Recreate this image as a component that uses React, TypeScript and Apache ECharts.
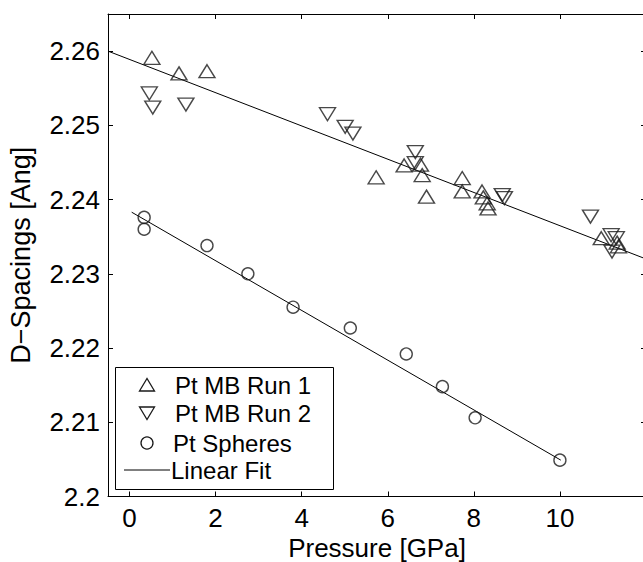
import React, { useEffect, useRef } from "react";
import * as echarts from "echarts";

const run1X = [0.52, 1.15, 1.80, 5.73, 6.38, 6.76, 6.80, 6.90, 7.73, 7.73, 8.19, 8.22, 8.31, 8.33, 10.96, 11.33, 11.36];
const run1Y = [2.2591, 2.2570, 2.2573, 2.2430, 2.2446, 2.2447, 2.2433, 2.2404, 2.2429, 2.2411, 2.2411, 2.2403, 2.2395, 2.2388, 2.2348, 2.2342, 2.2337];

const run2X = [0.46, 0.54, 1.31, 4.60, 5.01, 5.19, 6.64, 6.64, 8.66, 8.71, 10.71, 11.19, 11.21, 11.31];
const run2Y = [2.2543, 2.2524, 2.2528, 2.2515, 2.2498, 2.2489, 2.2464, 2.2449, 2.2406, 2.2402, 2.2377, 2.2352, 2.2330, 2.2348];

const sphX = [0.34, 0.34, 1.80, 2.75, 3.80, 5.13, 6.43, 7.27, 8.03, 10.0];
const sphY = [2.2376, 2.2360, 2.2338, 2.2300, 2.2255, 2.2227, 2.2192, 2.2148, 2.2106, 2.2049];

const fitMBX = [-0.5, 12];
const fitMBY = [2.2600, 2.2320];
const fitSphX = [0.05, 10.02];
const fitSphY = [2.2383, 2.2049];

const xTicks = [0, 2, 4, 6, 8, 10];
const yTicks = [2.2, 2.21, 2.22, 2.23, 2.24, 2.25, 2.26];

const legendLabels = ["Pt MB Run 1", "Pt MB Run 2", "Pt Spheres", "Linear Fit"];

const FONT = "'Liberation Sans', Arial, Helvetica, sans-serif";

const zip = (xs: number[], ys: number[]) => xs.map((x, i) => [x, ys[i]]);

export default function App() {
  const ref = useRef<HTMLDivElement>(null);
  useEffect(() => {
    if (!ref.current) return;
    const chart = echarts.init(ref.current, undefined, { renderer: "svg" });
    const markerStyle = { color: "rgba(0,0,0,0)", borderColor: "#1a1a1a", borderWidth: 1.4 };
    const textStyle = { fontFamily: FONT, fontSize: 24, fill: "#000" };
    const legX = 147;
    const legY = [385, 413, 443, 470];
    const axisCommon = {
      type: "value",
      axisLine: { show: true, onZero: false, lineStyle: { color: "#000", width: 1 } },
      splitLine: { show: false },
    };
    chart.setOption({
      animation: false,
      backgroundColor: "#fff",
      grid: { left: 108, top: 14, right: -3, bottom: 65.5, containLabel: false, outerBoundsMode: "none" },
      xAxis: [
        {
          ...axisCommon,
          min: -0.5,
          max: 12,
          name: "Pressure [GPa]",
          nameLocation: "middle",
          nameGap: 30,
          nameTextStyle: { fontFamily: FONT, fontSize: 26, color: "#000", lineHeight: 26 },
          axisTick: { show: true, inside: true, length: 5, customValues: xTicks, lineStyle: { color: "#000" } },
          axisLabel: { customValues: xTicks, fontFamily: FONT, fontSize: 26, color: "#000", margin: 8 },
        },
        {
          ...axisCommon,
          position: "top",
          min: -0.5,
          max: 12,
          axisTick: { show: true, inside: true, length: 5, customValues: xTicks, lineStyle: { color: "#000" } },
          axisLabel: { show: false },
        },
      ],
      yAxis: [
        {
          ...axisCommon,
          min: 2.2,
          max: 2.265,
          name: "D\u2212Spacings [Ang]",
          nameLocation: "middle",
          nameGap: 74,
          nameTextStyle: { fontFamily: FONT, fontSize: 27, color: "#000" },
          axisTick: { show: true, inside: true, length: 5, customValues: yTicks, lineStyle: { color: "#000" } },
          axisLabel: {
            customValues: yTicks,
            formatter: (v: number) => String(+v.toFixed(2)),
            fontFamily: FONT,
            fontSize: 26,
            color: "#000",
            margin: 8,
          },
        },
        {
          ...axisCommon,
          position: "right",
          min: 2.2,
          max: 2.265,
          axisTick: { show: true, inside: true, length: 5, customValues: yTicks, lineStyle: { color: "#000" } },
          axisLabel: { show: false },
        },
      ],
      series: [
        {
          name: legendLabels[3],
          type: "line",
          data: zip(fitMBX, fitMBY),
          showSymbol: false,
          lineStyle: { color: "#000", width: 1 },
          z: 1,
        },
        {
          name: legendLabels[3] + " 2",
          type: "line",
          data: zip(fitSphX, fitSphY),
          showSymbol: false,
          lineStyle: { color: "#000", width: 1 },
          z: 1,
        },
        {
          name: legendLabels[0],
          type: "scatter",
          data: zip(run1X, run1Y),
          symbol: "triangle",
          symbolSize: [16, 13],
          itemStyle: markerStyle,
          z: 2,
        },
        {
          name: legendLabels[1],
          type: "scatter",
          data: zip(run2X, run2Y),
          symbol: "triangle",
          symbolRotate: 180,
          symbolSize: [16, 13],
          itemStyle: markerStyle,
          z: 2,
        },
        {
          name: legendLabels[2],
          type: "scatter",
          data: zip(sphX, sphY),
          symbol: "circle",
          symbolSize: 12,
          itemStyle: markerStyle,
          z: 2,
        },
      ],
      graphic: [
        {
          type: "rect",
          z: 100,
          shape: { x: 115.5, y: 367.5, width: 218, height: 122 },
          style: { fill: "#fff", stroke: "#000", lineWidth: 1 },
        },
        {
          type: "polygon",
          z: 101,
          x: legX,
          y: legY[0],
          shape: { points: [[-7.5, 6], [7.5, 6], [0, -6.5]] },
          style: { fill: "none", stroke: "#1a1a1a", lineWidth: 1.3 },
        },
        {
          type: "polygon",
          z: 101,
          x: legX,
          y: legY[1],
          shape: { points: [[-7.5, -6], [7.5, -6], [0, 6.5]] },
          style: { fill: "none", stroke: "#1a1a1a", lineWidth: 1.3 },
        },
        {
          type: "circle",
          z: 101,
          shape: { cx: legX, cy: legY[2], r: 6 },
          style: { fill: "none", stroke: "#1a1a1a", lineWidth: 1.3 },
        },
        {
          type: "line",
          z: 101,
          shape: { x1: 124, y1: legY[3], x2: 170, y2: legY[3] },
          style: { stroke: "#000", lineWidth: 1 },
        },
        { type: "text", z: 101, x: 175, y: legY[0], style: { ...textStyle, text: legendLabels[0], verticalAlign: "middle" } },
        { type: "text", z: 101, x: 175, y: legY[1], style: { ...textStyle, text: legendLabels[1], verticalAlign: "middle" } },
        { type: "text", z: 101, x: 173, y: legY[2], style: { ...textStyle, text: legendLabels[2], verticalAlign: "middle" } },
        { type: "text", z: 101, x: 171, y: legY[3], style: { ...textStyle, text: legendLabels[3], verticalAlign: "middle" } },
      ],
    });
    return () => chart.dispose();
  }, []);
  return (
    <div
      ref={ref}
      style={{ position: "fixed", left: 0, top: 0, width: 643, height: 562, background: "#fff" }}
    />
  );
}
